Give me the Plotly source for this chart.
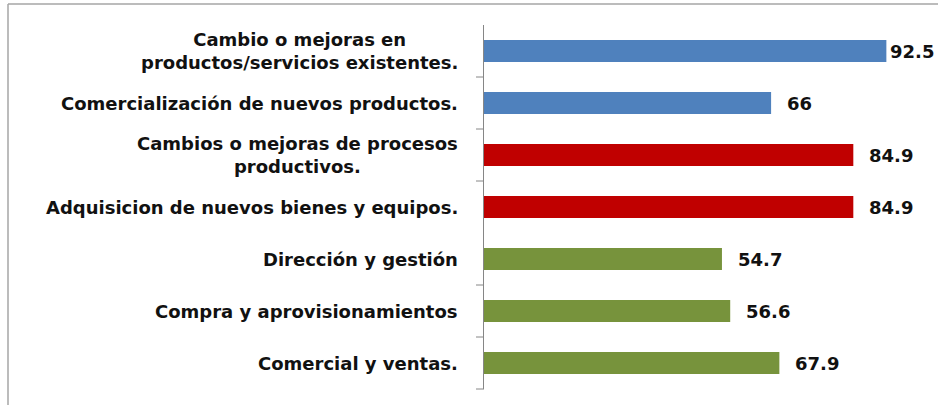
import plotly.graph_objects as go

# Survey results: share of firms (%) by type of innovation
categories = [
    "Cambio o mejoras en<br>productos/servicios existentes.",
    "Comercialización de nuevos productos.",
    "Cambios o mejoras de procesos<br>productivos.",
    "Adquisicion de nuevos bienes y equipos.",
    "Dirección y gestión",
    "Compra y aprovisionamientos",
    "Comercial y ventas.",
]
values = [92.5, 66, 84.9, 84.9, 54.7, 56.6, 67.9]
value_labels = ["92.5", "66", "84.9", "84.9", "54.7", "56.6", "67.9"]
groups = ["producto", "producto", "proceso", "proceso", "organizacion", "organizacion", "organizacion"]

group_colors = {"producto": "#4F81BD", "proceso": "#C00000", "organizacion": "#77933C"}

# Figure geometry (pixels)
W, H = 938, 405
ML, MR, MT, MB = 484, 19, 25, 16
PW, PH = W - ML - MR, H - MT - MB
X_MAX = 100

FONT = "DejaVu Sans"
FSIZE = 18
TEXT_COLOR = "#111111"
AXIS_COLOR = "#868686"
FRAME_COLOR = "#A6A6A6"

fig = go.Figure(
    go.Bar(
        x=values,
        y=categories,
        orientation="h",
        marker=dict(color=[group_colors[g] for g in groups], line=dict(width=0)),
        width=0.42,
        hoverinfo="x+y",
    )
)

annotations = []

# Category labels, lines centred on each other, right edge near the axis
for cat in categories:
    annotations.append(dict(
        x=0, xref="paper", xanchor="right", xshift=-24,
        y=cat, yref="y", yanchor="middle",
        text=f"<b>{cat}</b>", showarrow=False, align="center",
        font=dict(family=FONT, size=FSIZE, color=TEXT_COLOR),
    ))

# Value labels just past the end of each bar, kept inside the page
char_w = {".": 0.38}
for cat, v, lab in zip(categories, values, value_labels):
    est_w = sum(char_w.get(c, 0.696) for c in lab) * FSIZE
    end_px = ML + v / X_MAX * PW
    gap = 14
    if end_px + gap + est_w > W - 1:
        annotations.append(dict(
            x=1, xref="paper", xanchor="right", xshift=(W - 2) - (ML + PW),
            y=cat, yref="y", yanchor="middle",
            text=f"<b>{lab}</b>", showarrow=False,
            font=dict(family=FONT, size=FSIZE, color=TEXT_COLOR),
        ))
    else:
        annotations.append(dict(
            x=v, xref="x", xanchor="left", xshift=gap,
            y=cat, yref="y", yanchor="middle",
            text=f"<b>{lab}</b>", showarrow=False,
            font=dict(family=FONT, size=FSIZE, color=TEXT_COLOR),
        ))


def px_to_paper_x(px):
    return (px - ML) / PW


def py_to_paper_y(py):
    return (H - MB - py) / PH


shapes = []
# Tick marks on the left of the category axis, at group boundaries
n = len(categories)
for b in [0.5, 1.5, 2.5, 4.5, 5.5, 6.5]:
    yp = 1 - (b + 0.5) / n
    shapes.append(dict(
        type="line", xref="paper", yref="paper",
        x0=px_to_paper_x(ML - 8), x1=0,
        y0=yp, y1=yp, line=dict(color=AXIS_COLOR, width=1),
    ))

# Outer chart frame (top and left edges visible)
shapes.append(dict(
    type="line", xref="paper", yref="paper",
    x0=px_to_paper_x(8), x1=px_to_paper_x(W + 10),
    y0=py_to_paper_y(4), y1=py_to_paper_y(4),
    line=dict(color=FRAME_COLOR, width=1.5),
))
shapes.append(dict(
    type="line", xref="paper", yref="paper",
    x0=px_to_paper_x(8), x1=px_to_paper_x(8),
    y0=py_to_paper_y(4), y1=py_to_paper_y(H + 10),
    line=dict(color=FRAME_COLOR, width=1.5),
))

fig.update_layout(
    width=W, height=H,
    margin=dict(l=ML, r=MR, t=MT, b=MB, pad=0),
    paper_bgcolor="white", plot_bgcolor="white",
    showlegend=False,
    annotations=annotations,
    shapes=shapes,
    xaxis=dict(range=[0, X_MAX], visible=False, showgrid=False, zeroline=False),
    yaxis=dict(
        type="category", range=[6.5, -0.5],
        showticklabels=False, ticks="",
        showline=True, linecolor=AXIS_COLOR, linewidth=1,
        showgrid=False, zeroline=False,
    ),
)

fig.write_html("out.html")
